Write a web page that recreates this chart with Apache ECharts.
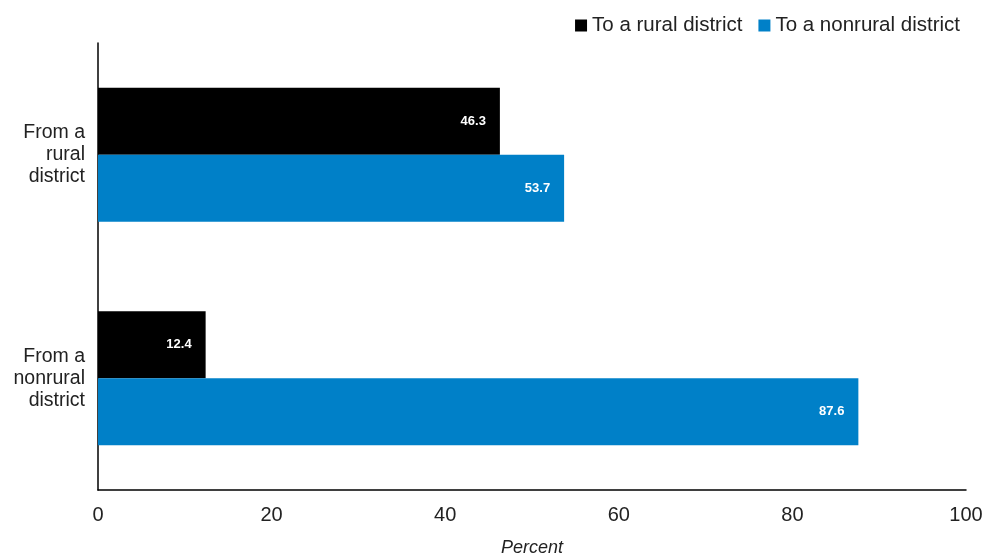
<!DOCTYPE html>
<html>
<head>
<meta charset="utf-8">
<script src="https://cdn.jsdelivr.net/npm/echarts@6/dist/echarts.min.js"></script>
<style>html,body{margin:0;padding:0;background:#fff}#c{width:987px;height:555px}</style>
</head>
<body>
<div id="c"></div>
<script>
var categories = ["From a\nrural\ndistrict", "From a\nnonrural\ndistrict"];
var seriesNames = ["To a rural district", "To a nonrural district"];
var ruralValues = [46.3, 12.4];
var nonruralValues = [53.7, 87.6];
var xTicks = [0, 20, 40, 60, 80, 100];

var chart = echarts.init(document.getElementById('c'));
var font = "'Liberation Sans', Arial, sans-serif";
var labelOpt = {
  show: true, position: 'insideRight', distance: 14,
  color: '#fff', fontWeight: 'bold', fontSize: 13, fontFamily: font,
  formatter: function (p) { return p.value.toFixed(1); }
};
chart.setOption({
  animation: false,
  textStyle: { fontFamily: font },
  legend: {
    right: 22, top: 10, itemWidth: 12, itemHeight: 12, itemGap: 16,
    icon: 'rect',
    textStyle: { fontSize: 20.5, color: '#222', fontFamily: font },
    data: seriesNames
  },
  grid: { left: 98, right: 21, top: 43, bottom: 65, outerBoundsMode: 'none', containLabel: false },
  xAxis: {
    type: 'value', min: xTicks[0], max: xTicks[xTicks.length - 1], interval: 20,
    name: 'Percent', nameLocation: 'middle', nameGap: 49,
    nameTextStyle: { fontStyle: 'italic', fontSize: 18, color: '#222', fontFamily: font },
    axisLine: { show: true, lineStyle: { color: '#000', width: 1.5 } },
    axisTick: { show: false },
    splitLine: { show: false },
    axisLabel: { fontSize: 20, color: '#222', margin: 15, fontFamily: font }
  },
  yAxis: {
    type: 'category', inverse: true, data: categories,
    axisLine: { show: true, lineStyle: { color: '#000', width: 1.5 } },
    axisTick: { show: false },
    axisLabel: { fontSize: 19.5, color: '#222', lineHeight: 22, margin: 13, align: 'right', fontFamily: font }
  },
  series: [
    { name: seriesNames[0], type: 'bar', data: ruralValues, barGap: '0%', barCategoryGap: '40%',
      itemStyle: { color: '#000000' }, label: labelOpt },
    { name: seriesNames[1], type: 'bar', data: nonruralValues, barGap: '0%', barCategoryGap: '40%',
      itemStyle: { color: '#0080C8' }, label: labelOpt }
  ]
});
</script>
</body>
</html>
